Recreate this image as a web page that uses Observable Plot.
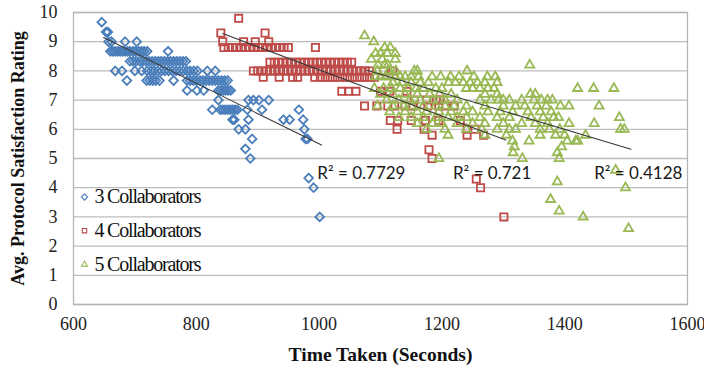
<!DOCTYPE html>
<html>
<head>
<meta charset="utf-8">
<script src="https://cdn.jsdelivr.net/npm/d3@7"></script>
<script src="https://cdn.jsdelivr.net/npm/@observablehq/plot@0.6"></script>
<style>
  html, body { margin: 0; padding: 0; background: #fff; }
  #chart { width: 704px; height: 369px; }
  #chart svg { font-family: "Liberation Serif", serif; }
</style>
</head>
<body>
<div id="chart"></div>
<script>
// ---- Data: [time taken (s), avg. rating] ----
const collab3 = [
  [646,9.67],[653,9.33],[656,9.33],
  [657,9.0],[662,9.0],[684,9.0],[703,9.0],
  [660,8.67],[664,8.67],[668,8.67],[672,8.67],[676,8.67],[680,8.67],[684,8.67],[688,8.67],[692,8.67],[697,8.67],[701,8.67],[706,8.67],[711,8.67],[715,8.67],[720,8.67],[754,8.67],
  [692,8.33],[697,8.33],[702,8.33],[708,8.33],[713,8.33],[718,8.33],[723,8.33],[728,8.33],[733,8.33],[738,8.33],[743,8.33],[748,8.33],[753,8.33],[758,8.33],[763,8.33],[768,8.33],[773,8.33],[778,8.33],[783,8.33],
  [668,8.0],[679,8.0],[700,8.0],[711,8.0],[720,8.0],[726,8.0],[731,8.0],[737,8.0],[743,8.0],[749,8.0],[755,8.0],[761,8.0],[767,8.0],[773,8.0],[779,8.0],[785,8.0],[790,8.0],[796,8.0],[802,8.0],[818,8.0],[831,8.0],
  [687,7.67],[719,7.67],[724,7.67],[729,7.67],[734,7.67],[740,7.67],[763,7.67],[785,7.67],[790,7.67],[795,7.67],[800,7.67],[806,7.67],[811,7.67],[816,7.67],[821,7.67],[826,7.67],[831,7.67],[836,7.67],[841,7.67],[846,7.67],[851,7.67],
  [785,7.33],[801,7.33],[812,7.33],[836,7.33],[840,7.33],[844,7.33],[848,7.33],[852,7.33],[856,7.33],
  [836,7.0],[885,7.0],[893,7.0],[902,7.0],[918,7.0],
  [826,6.67],[839,6.67],[843,6.67],[847,6.67],[851,6.67],[855,6.67],[859,6.67],[863,6.67],[867,6.67],[883,6.67],[907,6.67],[967,6.67],
  [859,6.33],[862,6.33],[885,6.33],[942,6.33],[952,6.33],[974,6.33],
  [869,6.0],[880,6.0],[976,6.0],
  [891,5.67],[978,5.67],[981,5.67],
  [880,5.33],[888,5.0],[983,4.33],[991,4.0],[1001,3.0]
];
const collab4 = [
  [869,9.8],[840,9.3],[912,9.3],
  [843,9.0],[877,9.0],[896,9.0],[918,9.0],
  [845,8.8],[852,8.8],[859,8.8],[866,8.8],[873,8.8],[880,8.8],[887,8.8],[894,8.8],[901,8.8],[908,8.8],[915,8.8],[922,8.8],[929,8.8],[936,8.8],[943,8.8],[950,8.8],[994,8.8],
  [920,8.3],[927,8.3],[934,8.3],[941,8.3],[948,8.3],[955,8.3],[962,8.3],[969,8.3],[976,8.3],[983,8.3],[990,8.3],[997,8.3],[1004,8.3],[1011,8.3],[1018,8.3],[1025,8.3],[1032,8.3],[1039,8.3],[1046,8.3],[1053,8.3],
  [893,8.0],[900,8.0],[907,8.0],[914,8.0],[921,8.0],[928,8.0],[935,8.0],[942,8.0],[949,8.0],[956,8.0],[963,8.0],[970,8.0],[977,8.0],[984,8.0],[991,8.0],[998,8.0],[1005,8.0],[1012,8.0],[1019,8.0],[1026,8.0],[1033,8.0],[1040,8.0],[1047,8.0],[1054,8.0],[1061,8.0],[1068,8.0],[1075,8.0],[1082,8.0],[1105,8.0],[1120,8.0],
  [909,7.78],[935,7.78],[957,7.78],[965,7.78],[993,7.78],[1002,7.78],[1010,7.78],[1018,7.78],[1026,7.78],[1034,7.78],[1042,7.78],[1050,7.78],[1058,7.78],[1066,7.78],[1074,7.78],[1082,7.78],[1090,7.78],
  [1037,7.3],[1048,7.3],[1060,7.3],[1100,7.3],[1115,7.3],[1143,7.3],
  [1155,7.0],[1175,7.0],[1191,7.0],[1197,7.0],
  [1074,6.8],[1094,6.8],[1112,6.8],[1123,6.8],[1140,6.8],[1153,6.8],[1177,6.8],[1195,6.8],[1206,6.8],[1220,6.8],
  [1116,6.3],[1128,6.3],[1150,6.3],[1173,6.3],[1195,6.3],[1230,6.3],
  [1127,6.0],[1171,6.0],[1241,6.0],[1254,6.0],
  [1184,5.8],[1241,5.8],[1268,5.8],
  [1179,5.3],[1184,5.0],[1256,4.3],[1263,4.0],[1301,3.0]
];
const collab5 = [
  [1074,9.2],[1089,9.0],[1107,8.8],[1116,8.8],
  [1092,8.6],[1100,8.6],[1111,8.6],[1124,8.6],
  [1085,8.4],[1103,8.4],[1124,8.4],
  [1096,8.2],[1107,8.2],[1112,8.2],[1343,8.2],
  [1095,8.0],[1114,8.0],[1125,8.0],[1155,8.0],[1160,8.0],[1241,8.0],
  [1092,7.8],[1100,7.8],[1108,7.8],[1116,7.8],[1124,7.8],[1132,7.8],[1140,7.8],[1150,7.8],[1162,7.8],[1184,7.8],[1198,7.8],[1214,7.8],[1228,7.8],[1252,7.8],[1274,7.8],[1287,7.8],
  [1120,7.6],[1135,7.6],[1150,7.6],[1165,7.6],[1178,7.6],[1211,7.6],[1222,7.6],[1235,7.6],[1246,7.6],[1258,7.6],[1270,7.6],[1290,7.6],
  [1090,7.4],[1105,7.4],[1118,7.4],[1132,7.4],[1145,7.4],[1158,7.4],[1170,7.4],[1190,7.4],[1200,7.4],[1240,7.4],[1250,7.4],[1262,7.4],[1275,7.4],[1285,7.4],[1421,7.4],[1447,7.4],[1480,7.4],
  [1100,7.2],[1120,7.2],[1140,7.2],[1160,7.2],[1180,7.2],[1196,7.2],[1215,7.2],[1270,7.2],[1290,7.2],[1344,7.2],[1352,7.2],
  [1110,7.0],[1130,7.0],[1148,7.0],[1165,7.0],[1185,7.0],[1205,7.0],[1225,7.0],[1262,7.0],[1280,7.0],[1292,7.0],[1300,7.0],[1310,7.0],[1330,7.0],[1350,7.0],[1362,7.0],[1372,7.0],[1380,7.0],
  [1095,6.8],[1120,6.8],[1138,6.8],[1150,6.8],[1170,6.8],[1190,6.8],[1205,6.8],[1220,6.8],[1240,6.8],[1270,6.8],[1300,6.8],[1320,6.8],[1335,6.8],[1355,6.8],[1370,6.8],[1393,6.8],[1407,6.8],[1456,6.8],
  [1115,6.6],[1140,6.6],[1160,6.6],[1175,6.6],[1195,6.6],[1215,6.6],[1235,6.6],[1250,6.6],[1275,6.6],[1295,6.6],[1315,6.6],[1340,6.6],[1360,6.6],[1378,6.6],
  [1130,6.4],[1150,6.4],[1170,6.4],[1190,6.4],[1210,6.4],[1225,6.4],[1240,6.4],[1262,6.4],[1290,6.4],[1310,6.4],[1345,6.4],[1365,6.4],[1382,6.4],[1390,6.4],[1489,6.4],
  [1160,6.2],[1185,6.2],[1200,6.2],[1225,6.2],[1250,6.2],[1270,6.2],[1300,6.2],[1330,6.2],[1352,6.2],[1372,6.2],[1407,6.2],[1448,6.2],
  [1175,6.0],[1205,6.0],[1240,6.0],[1265,6.0],[1290,6.0],[1310,6.0],[1320,6.0],[1360,6.0],[1375,6.0],[1392,6.0],[1491,6.0],[1497,6.0],
  [1210,5.8],[1270,5.8],[1305,5.8],[1360,5.8],[1385,5.8],[1400,5.8],[1434,5.8],
  [1315,5.6],[1342,5.6],[1404,5.6],[1418,5.6],[1421,5.6],
  [1318,5.4],[1395,5.4],[1316,5.2],[1388,5.2],
  [1195,5.0],[1331,5.0],[1391,5.0],
  [1483,4.6],[1388,4.2],[1499,4.0],[1377,3.6],[1391,3.2],[1430,3.0],[1504,2.6]
];
// Linear trend lines (end points) and their R² labels
const trend3 = [[649,9.14],[1004,5.46]];
const trend4 = [[843,9.28],[1304,5.63]];
const trend5 = [[1078,8.02],[1508,5.32]];
const r2Labels = ["R\u00B2 = 0.7729","R\u00B2 = 0.721","R\u00B2 = 0.4128"];
const r2Anchor = [[997,4.5],[1218,4.5],[1448,4.5]];
const seriesNames = ["3 Collaborators","4 Collaborators","5 Collaborators"];
const xTicks = [600,800,1000,1200,1400,1600];
const yTicks = [0,1,2,3,4,5,6,7,8,9,10];
const xTitle = "Time Taken (Seconds)";
const yTitle = "Avg. Protocol Satisfaction Rating";

// ---- Styling ----
const SERIF = "Liberation Serif, Times New Roman, serif";
const colors = ["#4A7EBB","#BE4B48","#98B954"];
const symbols = ["diamond2","square2","triangle2"];
const radii = [3.9, 4.6, 4.3];
const seriesData = [collab3, collab4, collab5];
const trends = [trend3, trend4, trend5];

const marks = [
  Plot.gridY(yTicks, {stroke: "#bdbdbd", strokeOpacity: 1, strokeWidth: 1.3}),
  Plot.frame({stroke: "#b5b5b5", strokeWidth: 1.3}),
  Plot.axisX(xTicks, {tickSize: 0, tickPadding: 13, fontFamily: SERIF, fontSize: 18, fill: "#222", label: null, tickFormat: d => String(d)}),
  Plot.axisY(yTicks, {tickSize: 0, tickPadding: 16, fontFamily: SERIF, fontSize: 18, fill: "#222", label: null})
];
seriesData.forEach((data, i) => {
  marks.push(Plot.dot(data, {
    x: d => d[0], y: d => d[1],
    symbol: symbols[i], r: radii[i],
    stroke: colors[i], strokeWidth: 1.8, fill: "none"
  }));
});
trends.forEach(t => {
  marks.push(Plot.line(t, {x: d => d[0], y: d => d[1], stroke: "#3a3a3a", strokeWidth: 1.1}));
});
marks.push(Plot.text(r2Labels.map((t, i) => ({t, x: r2Anchor[i][0], y: r2Anchor[i][1]})), {
  x: "x", y: "y", text: "t", textAnchor: "start", lineAnchor: "middle",
  fontFamily: "Lato", fontSize: 17, fill: "#1a1a1a"
}));
// legend inside the plot frame
seriesNames.forEach((name, i) => {
  const dy = 184.5 + i * 33.7;
  marks.push(Plot.dot([name], {frameAnchor: "top-left", dx: 11, dy, symbol: symbols[i], r: 2.8, stroke: colors[i], strokeWidth: 1.1, fill: "none"}));
  marks.push(Plot.text([name], {frameAnchor: "top-left", dx: 21, dy, text: d => d, textAnchor: "start", lineAnchor: "middle", fontFamily: SERIF, fontSize: 20, fill: "#111"}));
});
// axis titles
marks.push(Plot.text([yTitle], {frameAnchor: "left", dx: -55, rotate: -90, text: d => d, textAnchor: "middle", lineAnchor: "middle", fontFamily: SERIF, fontWeight: "bold", fontSize: 18, fill: "#111"}));
marks.push(Plot.text([xTitle], {frameAnchor: "bottom", dy: 50, text: d => d, textAnchor: "middle", lineAnchor: "middle", fontFamily: SERIF, fontWeight: "bold", fontSize: 19.5, fill: "#111"}));

const plot = Plot.plot({
  width: 704,
  height: 369,
  marginLeft: 73,
  marginRight: 17,
  marginTop: 12,
  marginBottom: 65,
  style: {fontFamily: SERIF, fontSize: "18px", color: "#222", background: "#fff"},
  x: {domain: [600, 1600], label: null},
  y: {domain: [0, 10], label: null},
  marks
});
d3.select(plot).selectAll("text")
  .filter(function () { return /Collaborators$/.test(this.textContent); })
  .attr("letter-spacing", "-1.2px")
  .style("letter-spacing", "-1.2px");
document.getElementById("chart").appendChild(plot);
</script>
</body>
</html>
